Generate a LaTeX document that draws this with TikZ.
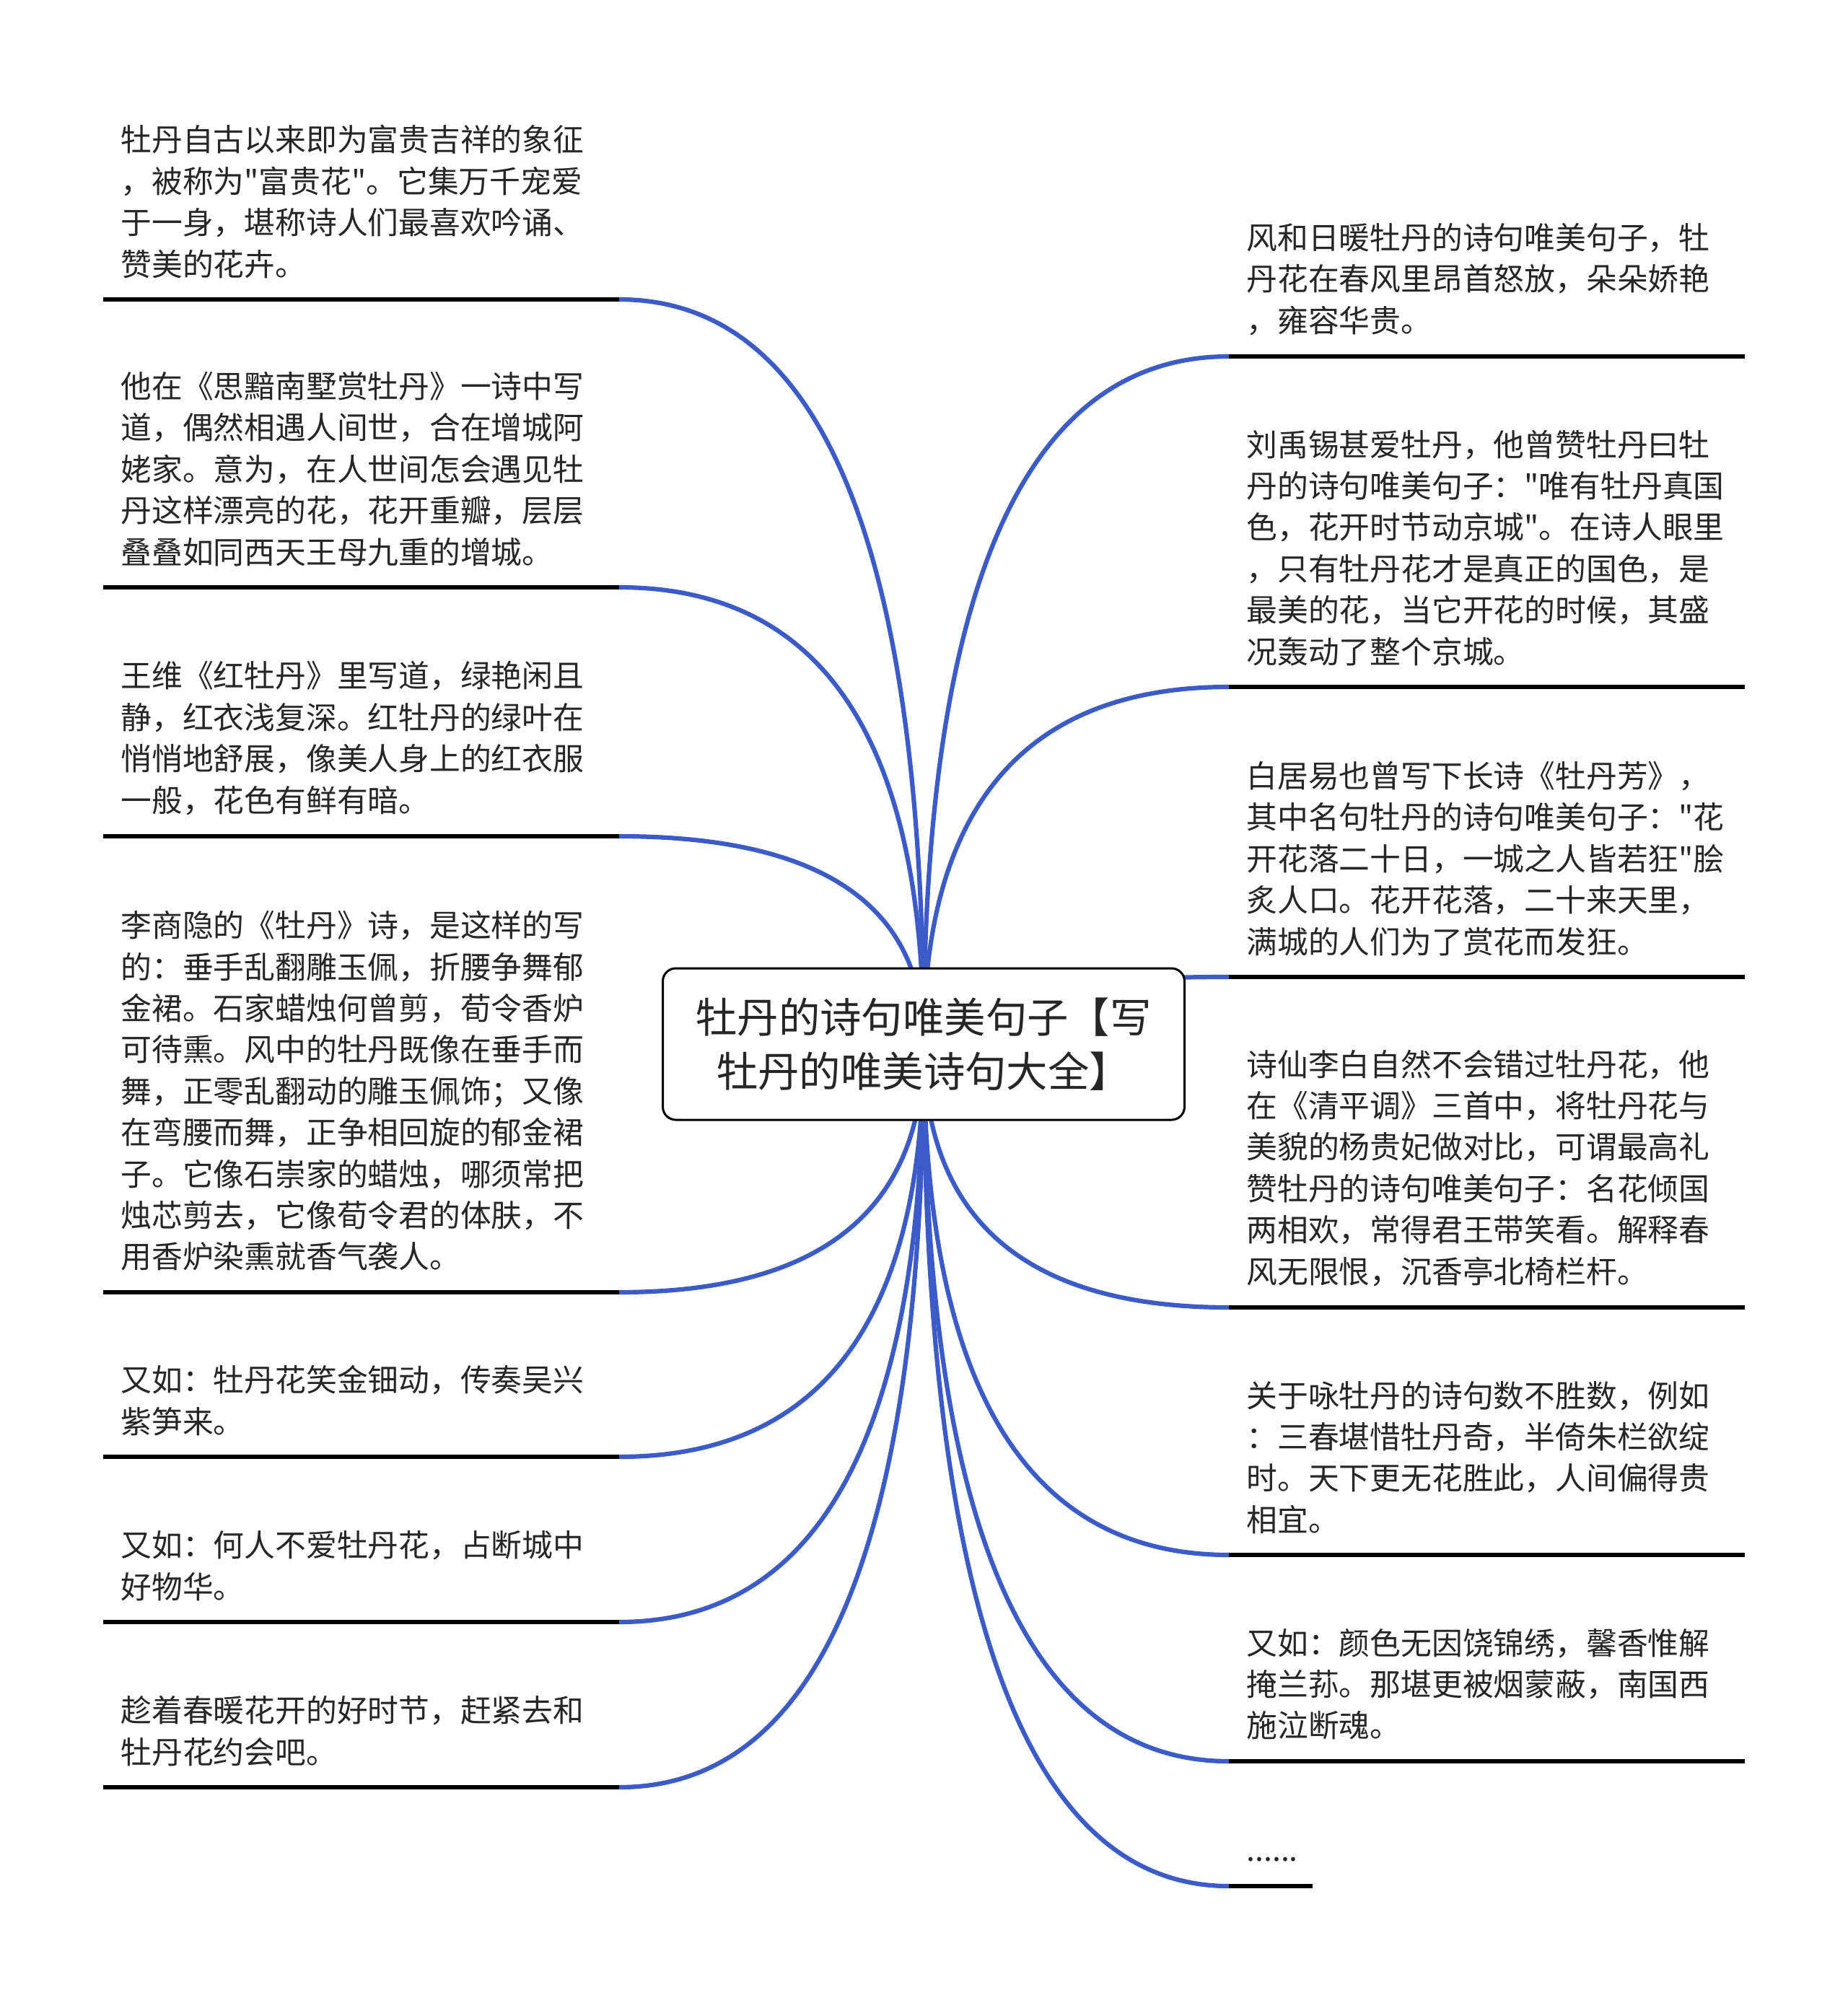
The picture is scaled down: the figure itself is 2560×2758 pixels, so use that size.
\documentclass[tikz,border=0pt]{standalone}
\usepackage{fontspec}
\newfontfamily\cjk{Noto Sans CJK SC}
\usetikzlibrary{calc,backgrounds}
\definecolor{branchblue}{HTML}{3A5BC8}
\definecolor{leaftext}{HTML}{262626}
\tikzset{
  leaf/.style={anchor=south west, text width=333pt, inner xsep=12pt,
    inner ysep=14.5pt, align=left, text=leaftext,
    font=\cjk\fontsize{21.4pt}{28.7pt}\selectfont},
  leafend/.style={anchor=south west, inner xsep=10pt,
    inner ysep=17pt, text=leaftext,
    font=\cjk\fontsize{21.4pt}{28.7pt}\selectfont},
  rootbox/.style={draw, line width=1.5pt, rounded corners=9pt, fill=white,
    minimum width=361.5pt, minimum height=105pt, align=center, text=leaftext,
    font=\cjk\fontsize{28.7pt}{37.8pt}\selectfont},
  uline/.style={line width=2.8pt},
  branch/.style={branchblue, line width=3.1pt}
}

\begin{document}
\begin{tikzpicture}[x=0.5pt, y=-0.5pt]
  \useasboundingbox (0,0) rectangle (2560,2758);

  %% Root topic
  \node[rootbox] (root) at (1280,1447) {牡丹的诗句唯美句子【写\\牡丹的唯美诗句大全】};

  %% Left leaves
  \node[leaf] (l1) at (143,415) {牡丹自古以来即为富贵吉祥的象征\\
    ，被称为"富贵花"。它集万千宠爱\\
    于一身，堪称诗人们最喜欢吟诵、\\
    赞美的花卉。};
  \node[leaf] (l2) at (143,814) {他在《思黯南墅赏牡丹》一诗中写\\
    道，偶然相遇人间世，合在增城阿\\
    姥家。意为，在人世间怎会遇见牡\\
    丹这样漂亮的花，花开重瓣，层层\\
    叠叠如同西天王母九重的增城。};
  \node[leaf] (l3) at (143,1159) {王维《红牡丹》里写道，绿艳闲且\\
    静，红衣浅复深。红牡丹的绿叶在\\
    悄悄地舒展，像美人身上的红衣服\\
    一般，花色有鲜有暗。};
  \node[leaf] (l4) at (143,1791) {李商隐的《牡丹》诗，是这样的写\\
    的：垂手乱翻雕玉佩，折腰争舞郁\\
    金裙。石家蜡烛何曾剪，荀令香炉\\
    可待熏。风中的牡丹既像在垂手而\\
    舞，正零乱翻动的雕玉佩饰；又像\\
    在弯腰而舞，正争相回旋的郁金裙\\
    子。它像石崇家的蜡烛，哪须常把\\
    烛芯剪去，它像荀令君的体肤，不\\
    用香炉染熏就香气袭人。};
  \node[leaf] (l5) at (143,2019) {又如：牡丹花笑金钿动，传奏吴兴\\
    紫笋来。};
  \node[leaf] (l6) at (143,2248) {又如：何人不爱牡丹花，占断城中\\
    好物华。};
  \node[leaf] (l7) at (143,2477) {趁着春暖花开的好时节，赶紧去和\\
    牡丹花约会吧。};

  %% Right leaves
  \node[leaf] (r1) at (1703,494) {风和日暖牡丹的诗句唯美句子，牡\\
    丹花在春风里昂首怒放，朵朵娇艳\\
    ，雍容华贵。};
  \node[leaf] (r2) at (1703,952) {刘禹锡甚爱牡丹，他曾赞牡丹曰牡\\
    丹的诗句唯美句子："唯有牡丹真国\\
    色，花开时节动京城"。在诗人眼里\\
    ，只有牡丹花才是真正的国色，是\\
    最美的花，当它开花的时候，其盛\\
    况轰动了整个京城。};
  \node[leaf] (r3) at (1703,1354) {白居易也曾写下长诗《牡丹芳》，\\
    其中名句牡丹的诗句唯美句子："花\\
    开花落二十日，一城之人皆若狂"脍\\
    炙人口。花开花落，二十来天里，\\
    满城的人们为了赏花而发狂。};
  \node[leaf] (r4) at (1703,1812) {诗仙李白自然不会错过牡丹花，他\\
    在《清平调》三首中，将牡丹花与\\
    美貌的杨贵妃做对比，可谓最高礼\\
    赞牡丹的诗句唯美句子：名花倾国\\
    两相欢，常得君王带笑看。解释春\\
    风无限恨，沉香亭北椅栏杆。};
  \node[leaf] (r5) at (1703,2155) {关于咏牡丹的诗句数不胜数，例如\\
    ：三春堪惜牡丹奇，半倚朱栏欲绽\\
    时。天下更无花胜此，人间偏得贵\\
    相宜。};
  \node[leaf] (r6) at (1703,2441) {又如：颜色无因饶锦绣，馨香惟解\\
    掩兰荪。那堪更被烟蒙蔽，南国西\\
    施泣断魂。};
  \node[leafend] (r7) at (1707,2614) {......};

  %% Underlines
  \foreach \n in {l1,l2,l3,l4,l5,l6,l7,r1,r2,r3,r4,r5,r6}
    \draw[uline] (\n.south west) -- (\n.south east);
  \draw[uline] (r7.south west) ++(-4,0) -- (r7.south east);

  %% Branches, behind the root box
  \begin{scope}[on background layer]
    \foreach \n in {l1,l2,l3,l4,l5,l6,l7}
      \draw[branch] (root.center)
        .. controls ($(root.center)!0.667!(root.center |- \n.south east)$)
        and ($(\n.south east)!0.667!(root.center |- \n.south east)$)
        .. (\n.south east);
    \foreach \n in {r1,r2,r3,r4,r5,r6}
      \draw[branch] (root.center)
        .. controls ($(root.center)!0.667!(root.center |- \n.south west)$)
        and ($(\n.south west)!0.667!(root.center |- \n.south west)$)
        .. (\n.south west);
    \coordinate (r7in) at ($(r7.south west)+(-4,0)$);
    \draw[branch] (root.center)
      .. controls ($(root.center)!0.667!(root.center |- r7in)$)
      and ($(r7in)!0.667!(root.center |- r7in)$)
      .. (r7in);
  \end{scope}
\end{tikzpicture}
\end{document}
